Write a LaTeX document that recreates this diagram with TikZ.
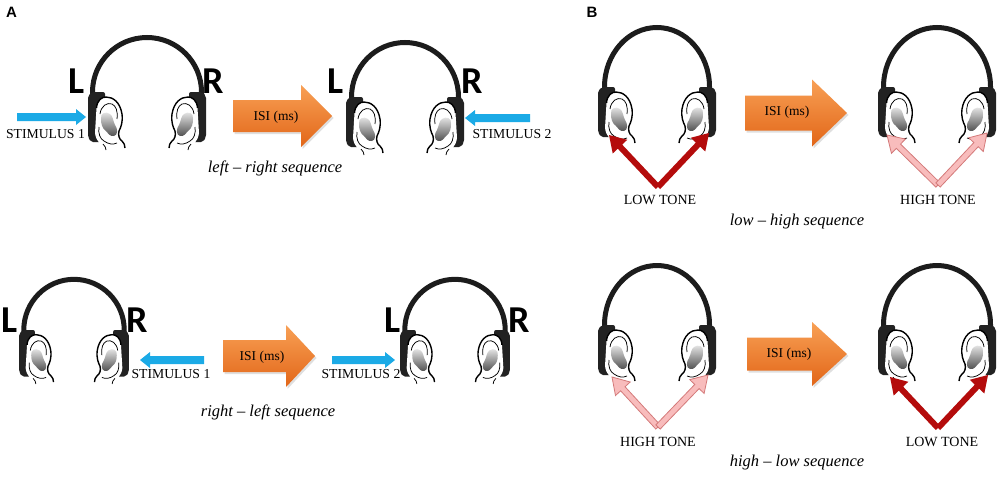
\documentclass[tikz,border=0pt]{standalone}
\usepackage{fontspec}
\setmainfont{Liberation Serif}
\newfontfamily\lrfont{Carlito}
\newfontfamily\panelfont{Liberation Sans}
\usetikzlibrary{calc,shadows}

\definecolor{cupc}{RGB}{34,34,34}
\definecolor{bandc}{RGB}{28,28,28}
\definecolor{stimblue}{RGB}{27,170,230}
\definecolor{orL}{RGB}{248,160,85}
\definecolor{orD}{RGB}{226,102,24}
\definecolor{toneRed}{RGB}{180,12,12}
\definecolor{tonePink}{RGB}{248,188,188}
\definecolor{pinkEdge}{RGB}{212,122,122}

\tikzset{
  bandst/.style={draw=bandc,line width=5pt},
  earline/.style={line width=1.4pt,black},
  earthin/.style={line width=0.75pt,black},
  lr/.style={font=\lrfont\bfseries\fontsize{38}{40}\selectfont,anchor=base,inner sep=0pt},
  panel/.style={font=\panelfont\bfseries\fontsize{15}{17}\selectfont,inner sep=0pt},
  stim/.style={font=\fontsize{13.7}{15}\selectfont,inner sep=0pt},
  tone/.style={font=\fontsize{14}{16}\selectfont,inner sep=0pt},
  isi/.style={font=\fontsize{13.5}{15}\selectfont,inner sep=0pt},
  caption/.style={font=\itshape\fontsize{16.5}{18}\selectfont,inner sep=0pt},
  bluearr/.style={fill=stimblue},
  redarr/.style={fill=toneRed},
  pinkarr/.style={fill=tonePink,draw=pinkEdge,line width=0.8pt,line join=miter},
  orangest/.style={top color=orL,bottom color=orD,
     drop shadow={opacity=0.25,shadow xshift=1.5pt,shadow yshift=-2pt}},
}

\newcommand{\earpaths}{%
  \fill[white] (1.5,11) .. controls (2,3) and (7,0) .. (11,0) .. controls (18,0) and (25,5) .. (27,17) .. controls (28,25) and (26,30) .. (24,34) .. controls (23,38) and (24,42) .. (27,44) .. controls (29,46) and (30,48) .. (30,51) -- (14,51) .. controls (6,50) and (1,44) .. (0,36) -- cycle;
  \shade[top color=gray!15,bottom color=black!70] (6,22) .. controls (5,16) and (11,14) .. (15,17) .. controls (18,19) and (18,24) .. (20,28) .. controls (23,32) and (23,38) .. (19,39) .. controls (15,40) and (13,36) .. (11,34) .. controls (7,31) and (6,27) .. (6,22) -- cycle;
  \draw[earline] (1.5,11) .. controls (2,3) and (7,0) .. (11,0) .. controls (18,0) and (25,5) .. (27,17) .. controls (28,25) and (26,30) .. (24,34) .. controls (23,38) and (24,42) .. (27,44) .. controls (29,46) and (30,48) .. (30,51);
  \draw[earthin] (5,17) .. controls (6,9) and (12,5) .. (17,7) .. controls (21,9) and (23,14) .. (22,22);
  \draw[earthin] (4,30) .. controls (3,36) and (5,42) .. (9,44) .. controls (13,47) and (18,48) .. (22,46);
  \draw[earthin] (8,47) .. controls (10,49) and (11,51) .. (11,53);
}

% #1 cx, #2 cup top y, #3 outer half width of band, #4 band height, #5 scale
\newcommand{\hphone}[5]{%
  \begin{scope}[shift={(#1,#2)},scale=#5]
    \draw[bandst] ({-(#3-2.5)},4) -- ({-(#3-2.5)},0) arc[start angle=180,end angle=360,x radius={#3-2.5},y radius={#4-2.5}] -- ({#3-2.5},4);
    \fill[cupc,rounded corners=2pt] (-59,4) -- (-55,0) -- (-42,0) -- (-42,50) -- (-56,50) -- (-59,45) -- cycle;
    \fill[cupc,rounded corners=2pt] (59,4) -- (55,0) -- (42,0) -- (42,50) -- (56,50) -- (59,45) -- cycle;
    \begin{scope}[shift={(-52,5)}]\earpaths\end{scope}
    \begin{scope}[shift={(52,5)},xscale=-1]\earpaths\end{scope}
  \end{scope}}

% #1 style, #2 from, #3 to, #4 shaft half, #5 head half, #6 head length
\newcommand{\fatarrow}[6]{%
  \coordinate (fahead) at ($(#3)!#6!(#2)$);
  \path[#1] ($(#2)!#4!90:(#3)$) -- ($(fahead)!#4!-90:(#2)$) -- ($(fahead)!#5!-90:(#2)$) -- (#3) -- ($(fahead)!#5!90:(#2)$) -- ($(fahead)!#4!90:(#2)$) -- ($(#2)!#4!-90:(#3)$) -- cycle;}

% #1 x left, #2 y centre, #3 length, #4 head length, #5 shaft half, #6 head half
\newcommand{\orangearr}[6]{%
  \path[orangest] (#1,{#2-#5}) -- ({#1+#3-#4},{#2-#5}) -- ({#1+#3-#4},{#2-#6}) -- ({#1+#3},#2) -- ({#1+#3-#4},{#2+#6}) -- ({#1+#3-#4},{#2+#5}) -- (#1,{#2+#5}) -- cycle;}

\begin{document}
\begin{tikzpicture}[x=1pt,y=-1pt]
\fill[white] (0,0) rectangle (1000,479);
\useasboundingbox (0,0) rectangle (1000,479);

% panel labels
\node[panel] (pA) at (11.5,12.5) {A};
\node[panel] (pB) at (592,12.5) {B};

% ---------------- Panel A, top row ----------------
\hphone{147}{92}{57}{57}{1}
\node[lr] (L1) at (77,93) {L};
\node[lr] (R1) at (213,93) {R};
\coordinate (s1a) at (17,117); \coordinate (s1b) at (86,117);
\fatarrow{bluearr}{s1a}{s1b}{4pt}{8pt}{10pt}
\node[stim] (st1) at (45.5,134) {STIMULUS 1};

\orangearr{233}{116}{99}{31}{16}{31}
\node[isi] (isi1) at (276,117) {ISI (ms)};

\hphone{405}{97}{56}{57}{1}
\node[lr] (L2) at (336,93) {L};
\node[lr] (R2) at (472,93) {R};
\coordinate (s2a) at (530,118); \coordinate (s2b) at (465,118);
\fatarrow{bluearr}{s2a}{s2b}{4pt}{8pt}{10pt}
\node[stim] (st2) at (512,134) {STIMULUS 2};

\node[caption] (cap1) at (275,168) {left -- right sequence};

% ---------------- Panel A, bottom row ----------------
\hphone{74}{330}{56.5}{57}{0.93}
\node[lr] (L3) at (10,332) {L};
\node[lr] (R3) at (137,332) {R};
\coordinate (s3a) at (204,360); \coordinate (s3b) at (140,360);
\fatarrow{bluearr}{s3a}{s3b}{4pt}{8pt}{10pt}
\node[stim] (st3) at (171,374) {STIMULUS 1};

\orangearr{223}{356}{92}{29}{16}{31}
\node[isi] (isi3) at (262,357) {ISI (ms)};

\coordinate (s4a) at (332,360); \coordinate (s4b) at (395,360);
\fatarrow{bluearr}{s4a}{s4b}{4pt}{8pt}{10pt}
\node[stim] (st4) at (361,374) {STIMULUS 2};

\hphone{455}{330}{56.5}{57}{0.93}
\node[lr] (L4) at (393,332) {L};
\node[lr] (R4) at (519,332) {R};

\node[caption] (cap2) at (268,412) {right -- left sequence};

% ---------------- Panel B, top row ----------------
\hphone{657}{87}{55}{62}{1}
\coordinate (t1) at (658,187); \coordinate (t1l) at (609,135); \coordinate (t1r) at (709,133);
\fatarrow{redarr}{t1}{t1l}{3pt}{10pt}{16pt}
\fatarrow{redarr}{t1}{t1r}{3pt}{10pt}{16pt}
\node[tone] (tn1) at (660,200) {LOW TONE};

\orangearr{745}{113}{102}{35}{17.5}{33.5}
\node[isi] (isi2) at (787,112) {ISI (ms)};

\hphone{937}{87}{56}{62}{1}
\coordinate (t2) at (938,185); \coordinate (t2l) at (887,135); \coordinate (t2r) at (987,133);
\fatarrow{pinkarr}{t2}{t2l}{3pt}{10pt}{16pt}
\fatarrow{pinkarr}{t2}{t2r}{3pt}{10pt}{16pt}
\node[tone] (tn2) at (938,200) {HIGH TONE};

\node[caption] (cap3) at (797,222) {low -- high sequence};

% ---------------- Panel B, bottom row ----------------
\hphone{657}{325}{55}{62}{1}
\coordinate (t3) at (658,427); \coordinate (t3l) at (612,377); \coordinate (t3r) at (708,375);
\fatarrow{pinkarr}{t3}{t3l}{3pt}{10pt}{16pt}
\fatarrow{pinkarr}{t3}{t3r}{3pt}{10pt}{16pt}
\node[tone] (tn3) at (658,442) {HIGH TONE};

\orangearr{747}{354}{100}{35}{16.5}{32}
\node[isi] (isi4) at (789,354) {ISI (ms)};

\hphone{937}{325}{56}{62}{1}
\coordinate (t4) at (938,428); \coordinate (t4l) at (890,377); \coordinate (t4r) at (988,375);
\fatarrow{redarr}{t4}{t4l}{3pt}{10pt}{16pt}
\fatarrow{redarr}{t4}{t4r}{3pt}{10pt}{16pt}
\node[tone] (tn4) at (942,442) {LOW TONE};

\node[caption] (cap4) at (797,463) {high -- low sequence};
\end{tikzpicture}
\end{document}
